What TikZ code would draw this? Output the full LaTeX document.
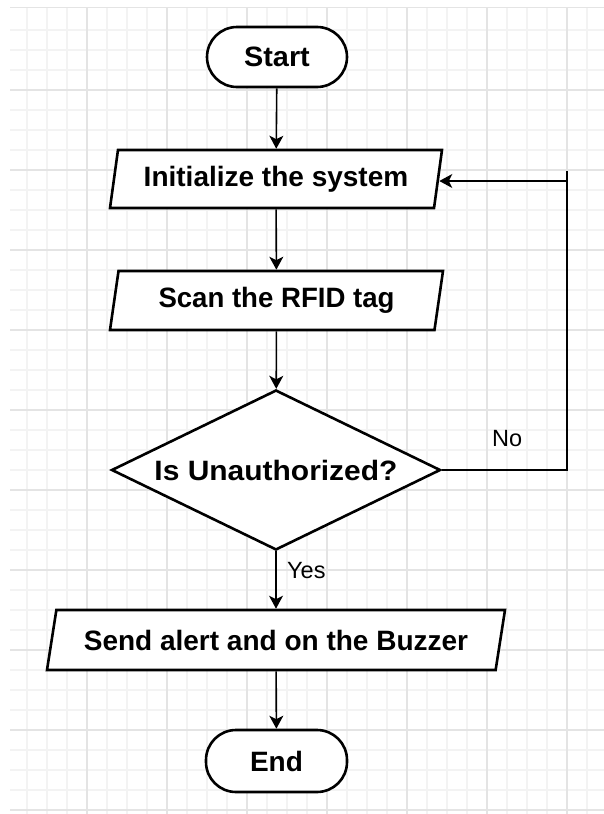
\documentclass[tikz,border=0pt]{standalone}
\usepackage{fontspec}
\setmainfont{Liberation Sans}
\usetikzlibrary{shapes.geometric,arrows.meta}
\definecolor{gridmajor}{HTML}{E4E4E4}
\definecolor{gridminor}{HTML}{F3F3F3}
\tikzset{
  box/.style={draw=black, line width=2.6pt, fill=white, inner sep=0pt,
    font=\fontsize{28}{34}\selectfont\bfseries},
  term/.style={box, rectangle, rounded corners=30pt},
  para/.style={box, trapezium, trapezium stretches body=true},
  decision/.style={box, diamond, shape aspect=2.06},
  conn/.style={draw=black, line width=1.6pt},
  arr/.style={conn, -{Stealth[length=13pt,width=14pt,inset=3.5pt]}},
  lbl/.style={inner sep=0pt, font=\fontsize{23.5}{28}\selectfont},
}
\begin{document}
\begin{tikzpicture}[x=1pt,y=-1pt]
\useasboundingbox (0,0) rectangle (604,814);
\fill[white] (0,0) rectangle (604,814);
% grid
\foreach \x in {27,47,...,587} \draw[gridminor, line width=1.2pt] (\x,7) -- (\x,814);
\foreach \y in {30,50,...,810} \draw[gridminor, line width=1.2pt] (10,\y) -- (604,\y);
\foreach \x in {87,167,...,567} \draw[gridmajor, line width=1.2pt] (\x,7) -- (\x,814);
\foreach \y in {90,170,...,810} \draw[gridmajor, line width=1.2pt] (10,\y) -- (604,\y);
\draw[gridmajor, line width=1.8pt] (10,7.5) -- (604,7.5);
% nodes
\node[term, minimum width=140pt, minimum height=60pt] (start) at (277,57) {\scalebox{1.03}[1]{Start}};
\node[para, trapezium left angle=73, trapezium right angle=107,
      minimum width=332pt, minimum height=58pt] (init) at (276,179)
      {\raisebox{-3pt}{Initialize the system}};
\node[para, trapezium left angle=72, trapezium right angle=108,
      minimum width=333pt, minimum height=59pt] (scan) at (276.5,300.5)
      {\raisebox{-2pt}{\scalebox{0.985}[1]{Scan the RFID tag}}};
\node[decision, minimum width=329pt, minimum height=160pt] (dia) at (276,470)
      {\scalebox{1.07}[1]{Is Unauthorized?}};
\node[para, trapezium left angle=65.5, trapezium right angle=114.5,
      minimum width=458pt, minimum height=60pt] (send) at (276,640) {Send alert and on the Buzzer};
\node[term, minimum width=141pt, minimum height=62pt] (end) at (276.5,761) {End};
% connectors
\draw[arr] (start) -- (init);
\draw[arr] (init) -- (scan);
\draw[arr] (scan) -- (dia);
\draw[arr] (dia) -- (send);
\draw[arr] (send) -- (end);
\coordinate (rt) at (567,171);
\coordinate (lp) at (567,181);
\draw[conn] (dia.east) -| (rt);
\draw[arr] (lp) -- (init.east |- lp);
% labels
\node[lbl, anchor=west] (yes) at (287,571) {Yes};
\node[lbl, anchor=west] (no) at (492,439) {No};
\end{tikzpicture}
\end{document}
